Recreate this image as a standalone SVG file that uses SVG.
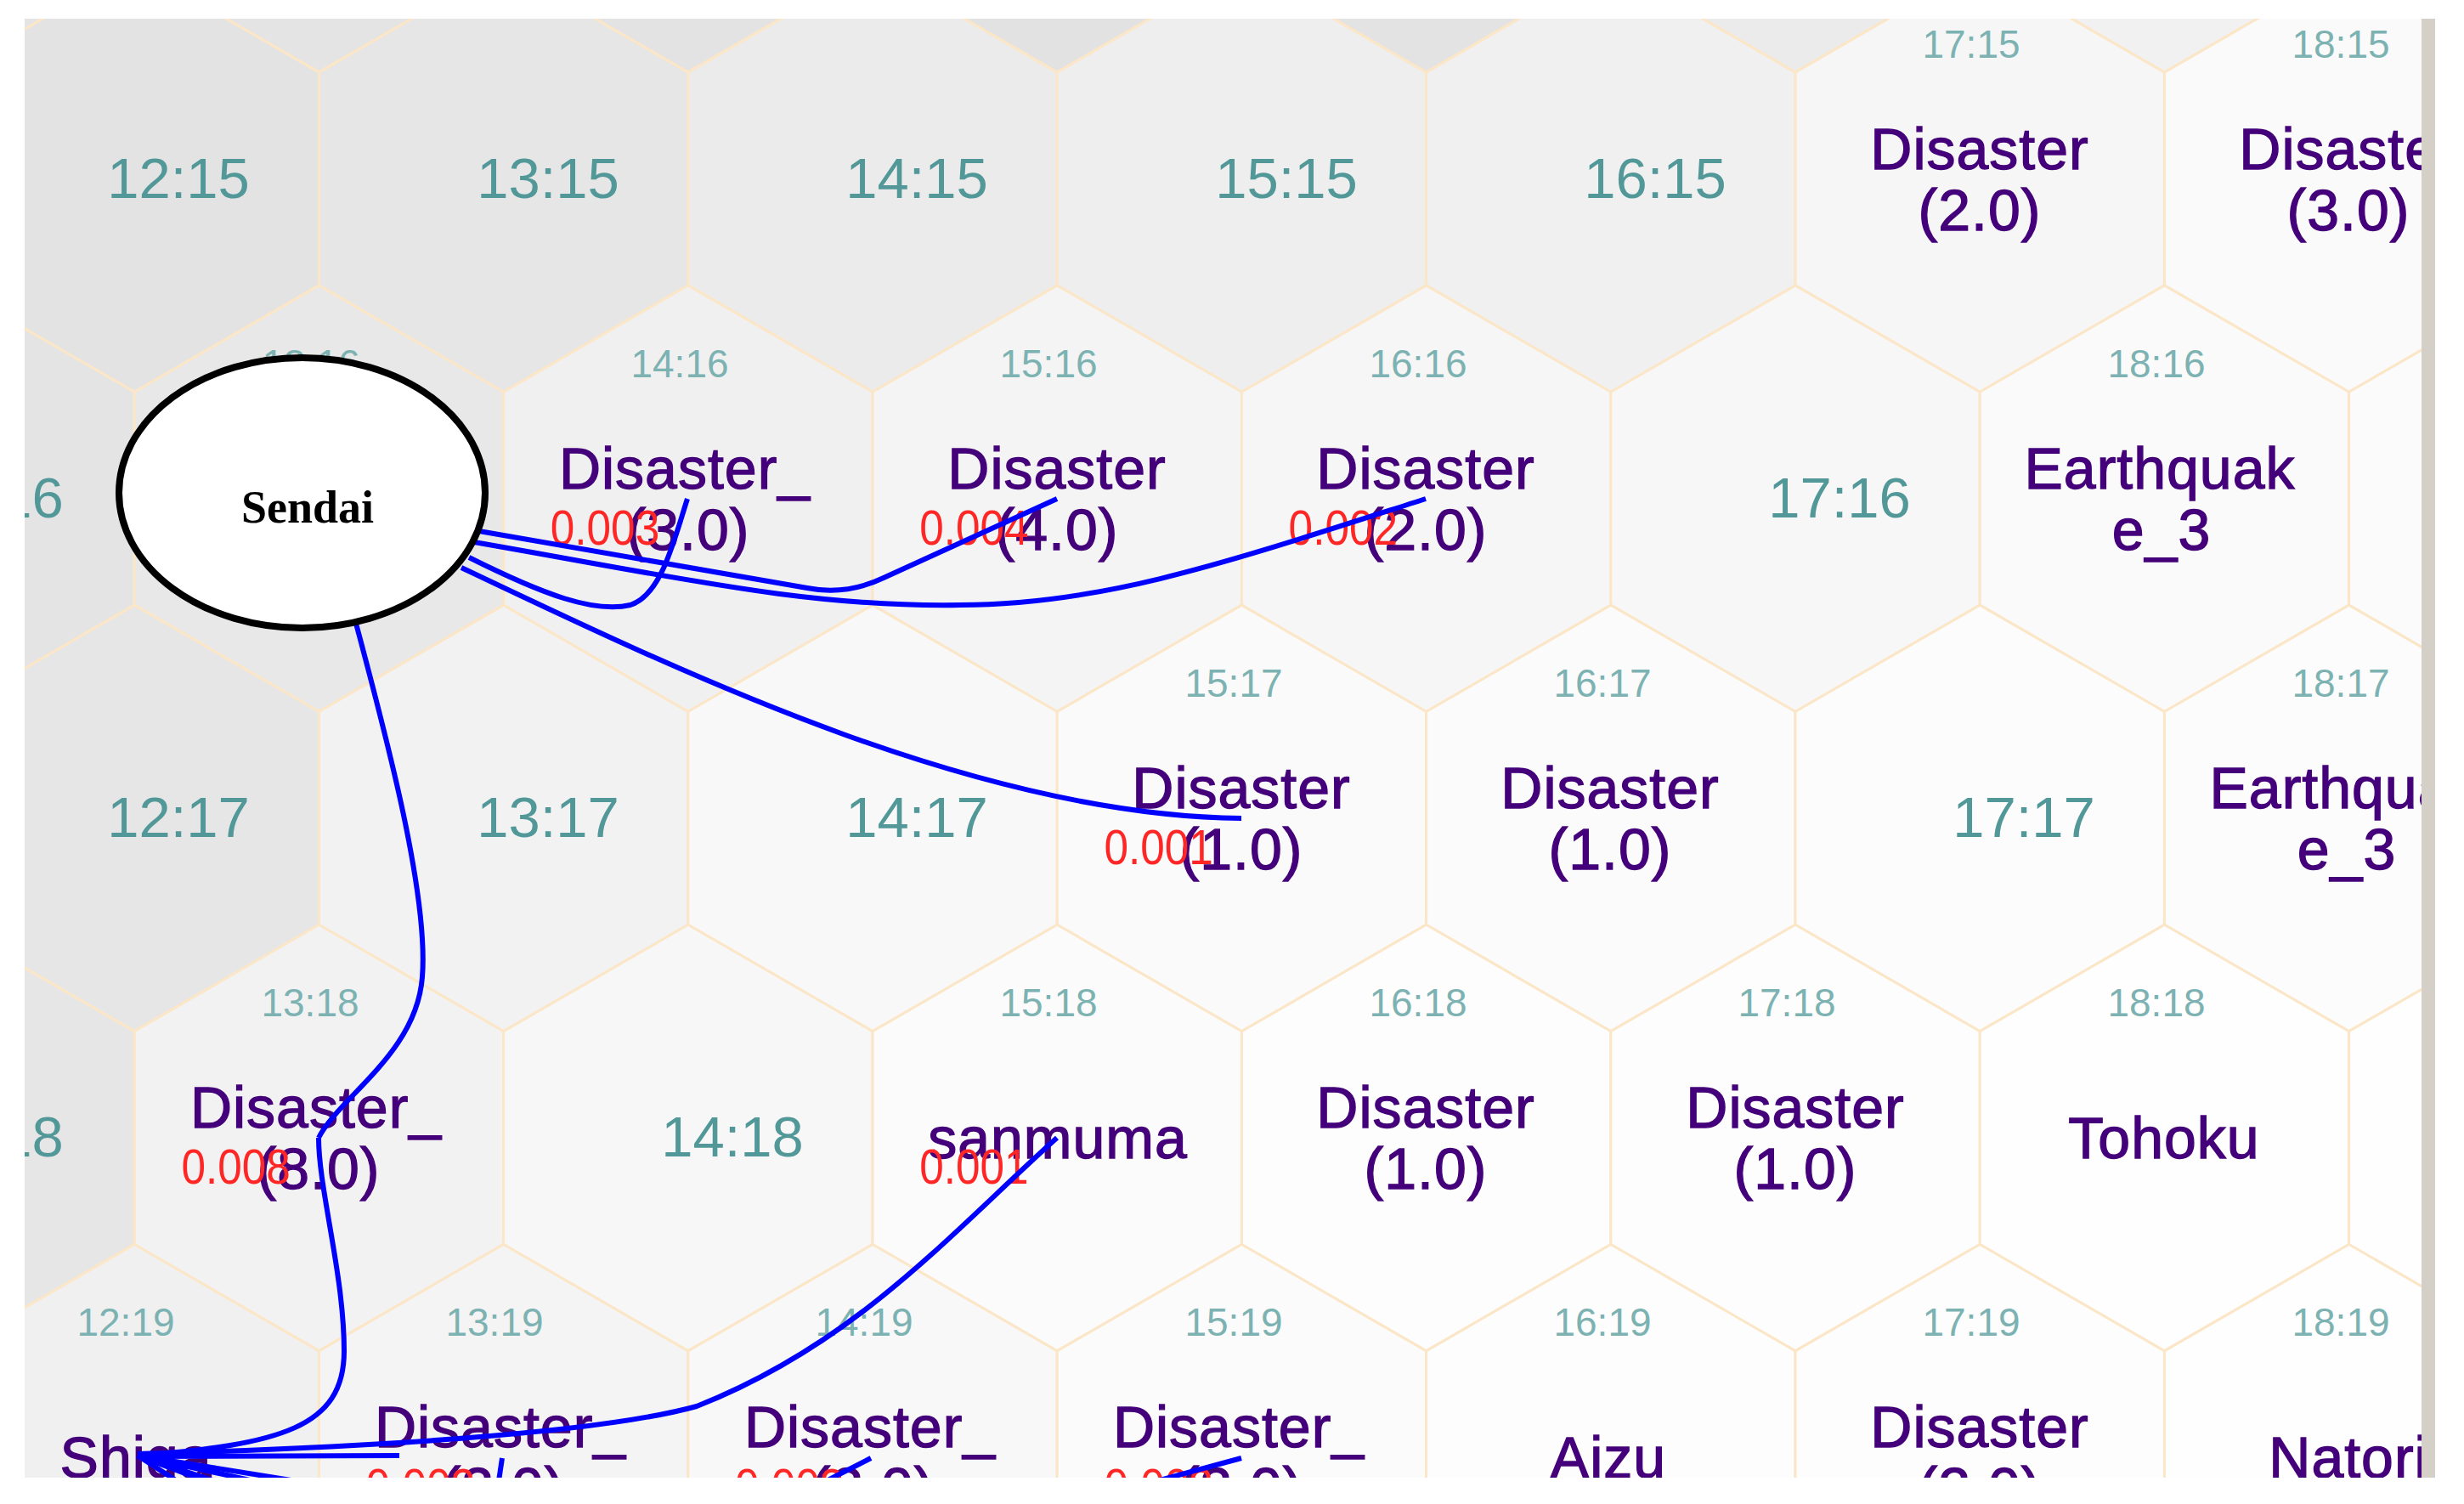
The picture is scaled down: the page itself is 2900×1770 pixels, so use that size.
<svg xmlns="http://www.w3.org/2000/svg" xmlns:xlink="http://www.w3.org/1999/xlink" width="2900" height="1770" viewBox="0 0 2900 1770">
<style>
.hex{stroke:#fbe6c8;stroke-width:3}
text{font-family:"Liberation Sans",Arial,sans-serif}
.bg{font-size:67px;fill:#529898;text-anchor:middle}
.sm{font-size:46px;fill:#7cb2b2;text-anchor:middle}
.lb{font-size:68px;fill:#44007a;stroke:#44007a;stroke-width:1.3;text-anchor:middle;letter-spacing:1px}
.w{font-size:57px;fill:#ff2626}
.edge{fill:none;stroke:#0000ff;stroke-width:6;stroke-linejoin:round;stroke-linecap:butt}
.nd{font-family:"Liberation Serif","Times New Roman",serif;font-weight:bold;font-size:54px;fill:#000;text-anchor:middle}
</style>
<defs>
<polygon id="hx" class="hex" points="0,-250.8 217.2,-125.4 217.2,125.4 0,250.8 -217.2,125.4 -217.2,-125.4"/>
<clipPath id="view"><rect x="29" y="22" width="2821" height="1717"/></clipPath>
</defs>
<rect x="0" y="0" width="2900" height="1770" fill="#ffffff"/>
<g clip-path="url(#view)">
<rect x="29" y="22" width="2821" height="1717" fill="#f4f4f4"/>
<g id="row14">
<use href="#hx" x="-59" y="-165.7" fill="#e4e4e4"/>
<use href="#hx" x="375.4" y="-165.7" fill="#e4e4e4"/>
<use href="#hx" x="809.8" y="-165.7" fill="#e3e3e3"/>
<use href="#hx" x="1244.2" y="-165.7" fill="#e2e2e2"/>
<use href="#hx" x="1678.6" y="-165.7" fill="#e3e3e3"/>
<use href="#hx" x="2113" y="-165.7" fill="#ebebeb"/>
<use href="#hx" x="2547.4" y="-165.7" fill="#f1f1f1"/>
<use href="#hx" x="2981.8" y="-165.7" fill="#f6f6f6"/>
</g>
<g id="c12-15"><use href="#hx" x="158.2" y="210.5" fill="#e3e3e3"/><text class="bg" x="210" y="232.5">12:15</text></g>
<g id="c13-15"><use href="#hx" x="592.6" y="210.5" fill="#e6e6e6"/><text class="bg" x="645" y="232.5">13:15</text></g>
<g id="c14-15"><use href="#hx" x="1027" y="210.5" fill="#ebebeb"/><text class="bg" x="1079" y="232.5">14:15</text></g>
<g id="c15-15"><use href="#hx" x="1461.4" y="210.5" fill="#eeeeee"/><text class="bg" x="1514" y="232.5">15:15</text></g>
<g id="c16-15"><use href="#hx" x="1895.8" y="210.5" fill="#f0f0f0"/><text class="bg" x="1948" y="232.5">16:15</text></g>
<g id="c17-15"><use href="#hx" x="2330.2" y="210.5" fill="#f6f6f6"/><text class="sm" x="2320" y="67.5">17:15</text><text class="lb" x="2330" y="198.5">Disaster</text><text class="lb" x="2330" y="270.5">(2.0)</text></g>
<g id="c18-15"><use href="#hx" x="2764.6" y="210.5" fill="#fafafa"/><text class="sm" x="2755" y="67.5">18:15</text><text class="lb" x="2764" y="198.5">Disaster</text><text class="lb" x="2764" y="270.5">(3.0)</text></g>

<g id="c12-16"><use href="#hx" x="-59" y="586.7" fill="#e4e4e4"/><text class="bg" x="-9" y="608.7">12:16</text></g>
<g id="c13-16"><use href="#hx" x="375.4" y="586.7" fill="#e8e8e8"/><text class="sm" x="366" y="443.7">13:16</text></g>
<g id="c14-16"><use href="#hx" x="809.8" y="586.7" fill="#f0f0f0"/><text class="sm" x="800" y="443.7">14:16</text><text class="lb" x="806" y="574.7">Disaster_</text><text class="lb" x="810" y="646.7">(3.0)</text></g>
<g id="c15-16"><use href="#hx" x="1244.2" y="586.7" fill="#f4f4f4"/><text class="sm" x="1234" y="443.7">15:16</text><text class="lb" x="1244" y="574.7">Disaster</text><text class="lb" x="1244" y="646.7">(4.0)</text></g>
<g id="c16-16"><use href="#hx" x="1678.6" y="586.7" fill="#f6f6f6"/><text class="sm" x="1669" y="443.7">16:16</text><text class="lb" x="1678" y="574.7">Disaster</text><text class="lb" x="1678" y="646.7">(2.0)</text></g>
<g id="c17-16"><use href="#hx" x="2113" y="586.7" fill="#f7f7f7"/><text class="bg" x="2165" y="608.7">17:16</text></g>
<g id="c18-16"><use href="#hx" x="2547.4" y="586.7" fill="#fafafa"/><text class="sm" x="2538" y="443.7">18:16</text><text class="lb" x="2542" y="574.7">Earthquak</text><text class="lb" x="2544" y="646.7">e_3</text></g>
<g id="c19-16"><use href="#hx" x="2981.8" y="586.7" fill="#fbfbfb"/></g>

<g id="c12-17"><use href="#hx" x="158.2" y="962.9" fill="#e6e6e6"/><text class="bg" x="210" y="984.9">12:17</text></g>
<g id="c13-17"><use href="#hx" x="592.6" y="962.9" fill="#f2f2f2"/><text class="bg" x="645" y="984.9">13:17</text></g>
<g id="c14-17"><use href="#hx" x="1027" y="962.9" fill="#f8f8f8"/><text class="bg" x="1079" y="984.9">14:17</text></g>
<g id="c15-17"><use href="#hx" x="1461.4" y="962.9" fill="#fafafa"/><text class="sm" x="1452" y="819.9">15:17</text><text class="lb" x="1461" y="950.9">Disaster</text><text class="lb" x="1461" y="1022.9">(1.0)</text></g>
<g id="c16-17"><use href="#hx" x="1895.8" y="962.9" fill="#fbfbfb"/><text class="sm" x="1886" y="819.9">16:17</text><text class="lb" x="1895" y="950.9">Disaster</text><text class="lb" x="1895" y="1022.9">(1.0)</text></g>
<g id="c17-17"><use href="#hx" x="2330.2" y="962.9" fill="#fcfcfc"/><text class="bg" x="2382" y="984.9">17:17</text></g>
<g id="c18-17"><use href="#hx" x="2764.6" y="962.9" fill="#fcfcfc"/><text class="sm" x="2755" y="819.9">18:17</text><text class="lb" x="2760" y="950.9">Earthquak</text><text class="lb" x="2762" y="1022.9">e_3</text></g>

<g id="c12-18"><use href="#hx" x="-59" y="1339.1" fill="#e6e6e6"/><text class="bg" x="-9" y="1361.1">12:18</text></g>
<g id="c13-18"><use href="#hx" x="375.4" y="1339.1" fill="#f2f2f2"/><text class="sm" x="365" y="1196.1">13:18</text><text class="lb" x="372" y="1327.1">Disaster_</text><text class="lb" x="375" y="1399.1">(8.0)</text></g>
<g id="c14-18"><use href="#hx" x="809.8" y="1339.1" fill="#f7f7f7"/><text class="bg" x="862" y="1361.1">14:18</text></g>
<g id="c15-18"><use href="#hx" x="1244.2" y="1339.1" fill="#fbfbfb"/><text class="sm" x="1234" y="1196.1">15:18</text><text class="lb" x="1245" y="1363.1">sanmuma</text></g>
<g id="c16-18"><use href="#hx" x="1678.6" y="1339.1" fill="#fdfdfd"/><text class="sm" x="1669" y="1196.1">16:18</text><text class="lb" x="1678" y="1327.1">Disaster</text><text class="lb" x="1678" y="1399.1">(1.0)</text></g>
<g id="c17-18"><use href="#hx" x="2113" y="1339.1" fill="#fdfdfd"/><text class="sm" x="2103" y="1196.1">17:18</text><text class="lb" x="2113" y="1327.1">Disaster</text><text class="lb" x="2113" y="1399.1">(1.0)</text></g>
<g id="c18-18"><use href="#hx" x="2547.4" y="1339.1" fill="#fefefe"/><text class="sm" x="2538" y="1196.1">18:18</text><text class="lb" x="2547" y="1363.1">Tohoku</text></g>
<g id="c19-18"><use href="#hx" x="2981.8" y="1339.1" fill="#fefefe"/></g>

<g id="c12-19"><use href="#hx" x="158.2" y="1715.3" fill="#f0f0f0"/><text class="sm" x="148" y="1572.3">12:19</text><text class="lb" x="160" y="1739.3">Shiga</text></g>
<g id="c13-19"><use href="#hx" x="592.6" y="1715.3" fill="#f4f4f4"/><text class="sm" x="582" y="1572.3">13:19</text><text class="lb" x="589" y="1703.3">Disaster_</text><text class="lb" x="592" y="1775.3">(2.0)</text></g>
<g id="c14-19"><use href="#hx" x="1027" y="1715.3" fill="#f8f8f8"/><text class="sm" x="1017" y="1572.3">14:19</text><text class="lb" x="1024" y="1703.3">Disaster_</text><text class="lb" x="1027" y="1775.3">(2.0)</text></g>
<g id="c15-19"><use href="#hx" x="1461.4" y="1715.3" fill="#fbfbfb"/><text class="sm" x="1452" y="1572.3">15:19</text><text class="lb" x="1458" y="1703.3">Disaster_</text><text class="lb" x="1461" y="1775.3">(2.0)</text></g>
<g id="c16-19"><use href="#hx" x="1895.8" y="1715.3" fill="#fdfdfd"/><text class="sm" x="1886" y="1572.3">16:19</text><text class="lb" x="1893" y="1739.3">Aizu</text></g>
<g id="c17-19"><use href="#hx" x="2330.2" y="1715.3" fill="#fdfdfd"/><text class="sm" x="2320" y="1572.3">17:19</text><text class="lb" x="2330" y="1703.3">Disaster</text><text class="lb" x="2330" y="1775.3">(2.0)</text></g>
<g id="c18-19"><use href="#hx" x="2764.6" y="1715.3" fill="#fefefe"/><text class="sm" x="2755" y="1572.3">18:19</text><text class="lb" x="2764" y="1739.3">Natori</text></g>

<g id="connectors">
<g id="weights">
<text class="w" transform="translate(647.8 640.7) scale(0.9 1)">0.003</text>
<text class="w" transform="translate(1082.2 640.7) scale(0.9 1)">0.004</text>
<text class="w" transform="translate(1516.6 640.7) scale(0.9 1)">0.002</text>
<text class="w" transform="translate(1299.4 1016.9) scale(0.9 1)">0.001</text>
<text class="w" transform="translate(213.4 1393.1) scale(0.9 1)">0.008</text>
<text class="w" transform="translate(1082.2 1393.1) scale(0.9 1)">0.001</text>
<text class="w" transform="translate(430.6 1769.3) scale(0.9 1)">0.002</text>
<text class="w" transform="translate(865 1769.3) scale(0.9 1)">0.002</text>
<text class="w" transform="translate(1299.4 1769.3) scale(0.9 1)">0.002</text>
</g>
<g class="edge">
<path d="M 552 656 C 640 700, 700 722, 742 712 C 778 700, 792 640, 809 587"/>
<path d="M 558 624 L 950 692 Q 996 701 1040 680 L 1244 587"/>
<path d="M 558 638 C 800 680, 950 715, 1130 712 C 1300 712, 1450 660, 1678 587"/>
<path d="M 543 668 C 800 790, 1150 960, 1461 963"/>
<path d="M 418 730 C 450 850, 505 1050, 497 1150 C 490 1240, 400 1290, 375 1339"/>
<path d="M 375 1339 C 375 1400, 405 1500, 405 1590 C 405 1680, 330 1700, 162 1713"/>
<path d="M 1244 1339 C 1120 1450, 1010 1580, 820 1655 C 700 1688, 420 1704, 162 1711"/>
<path d="M 162 1714 L 470 1713"/>
<path d="M 580 1790 L 591 1716"/>
<path d="M 900 1780 L 1025 1716"/>
<path d="M 1280 1765 L 1461 1716"/>
<path d="M 162 1713 L 300 1765"/>
<path d="M 162 1713 L 250 1770"/>
<path d="M 162 1713 L 340 1752"/>
<path d="M 162 1713 L 280 1752"/>
<path d="M 162 1713 L 380 1748"/>
</g>
</g>

<g id="n-sendai">
<ellipse cx="355.5" cy="580" rx="215.5" ry="159" fill="#ffffff" stroke="#000000" stroke-width="8"/>
<text class="nd" x="362" y="615">Sendai</text>
</g>
</g>
<rect x="2850" y="22" width="16" height="1717" fill="#d4d0c8"/>
</svg>
